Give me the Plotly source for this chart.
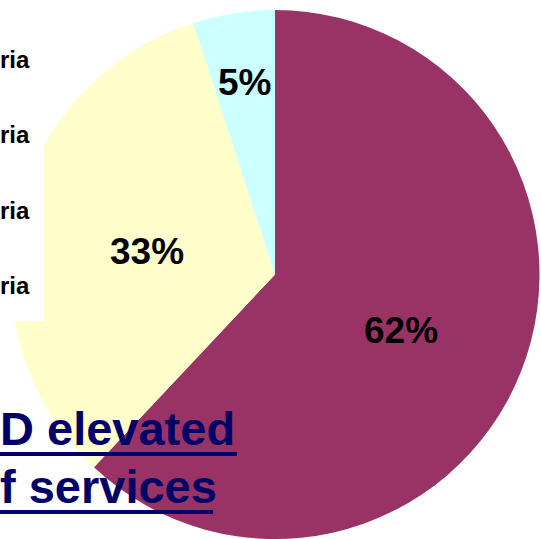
import math
import plotly.graph_objects as go

W, H = 541, 539

# Pie data: share of cases by category
slice_names = ["Category A", "Category B", "Category C"]
slice_values = [62, 33, 5]
slice_colors = ["#993366", "#FFFFCC", "#CCFFFF"]

# Legend-column texts (partly visible at left edge)
legend_texts = ["ria", "ria", "ria", "ria"]

# Caption lines
caption_lines = ["D elevated", "f services"]


def px(x):
    return x / W


def py(y):
    return 1 - y / H


# pie geometry in pixels
cx, top, right = 275, 10, 540
r = right - cx
cy = top + r

fig = go.Figure(
    go.Pie(
        labels=slice_names,
        values=slice_values,
        marker=dict(colors=slice_colors, line=dict(width=0)),
        sort=False,
        direction="clockwise",
        rotation=0,
        textinfo="none",
        hoverinfo="label+percent",
        showlegend=False,
        domain=dict(x=[px(cx - r), px(cx + r)], y=[0, py(top)]),
    )
)
r = min(2 * r, H - top) / 2
cy = top + r

annotations = []

# percentage labels placed along each slice's mid angle
label_radius = [0.52, 0.49, 0.735]
label_turn = [2.4, -2.4, 0.0]  # degrees
total = sum(slice_values)
cum = 0
for v, fr, dt in zip(slice_values, label_radius, label_turn):
    mid = (cum + v / 2) / total * 2 * math.pi + math.radians(dt)
    cum += v
    lx = cx + math.sin(mid) * r * fr
    ly = cy - math.cos(mid) * r * fr
    annotations.append(dict(
        x=px(lx), y=py(ly), xref="paper", yref="paper",
        text="<b>%d%%</b>" % round(v / total * 100),
        showarrow=False, xanchor="center", yanchor="middle",
        font=dict(family="Arial, Liberation Sans", size=37, color="#000000"),
    ))

# legend column text, right edge near x=30
for i, t in enumerate(legend_texts):
    annotations.append(dict(
        x=px(31), y=py(59 + i * 75.5), xref="paper", yref="paper",
        text="<b>%s</b>" % t, showarrow=False, xanchor="right", yanchor="middle",
        borderpad=0,
        font=dict(family="Arial, Liberation Sans", size=24, color="#000000"),
    ))

# caption
for i, t in enumerate(caption_lines):
    annotations.append(dict(
        x=px(-2), y=py(428 + i * 58), xref="paper", yref="paper",
        text="<b>%s</b>" % t, showarrow=False, xanchor="left", yanchor="middle",
        font=dict(family="Arial, Liberation Sans", size=47, color="#000066"),
    ))

shapes = [
    # white legend panel over the left of the pie
    dict(type="rect", xref="paper", yref="paper", x0=px(-5), x1=px(44),
         y0=py(321), y1=py(-5), fillcolor="#FFFFFF", line=dict(width=0), layer="above"),
    # caption underlines
    dict(type="line", xref="paper", yref="paper", x0=px(0), x1=px(237),
         y0=py(454), y1=py(454), line=dict(color="#000066", width=4), layer="above"),
    dict(type="line", xref="paper", yref="paper", x0=px(0), x1=px(213),
         y0=py(512), y1=py(512), line=dict(color="#000066", width=4), layer="above"),
]

fig.update_layout(
    width=W, height=H,
    margin=dict(l=0, r=0, t=0, b=0),
    paper_bgcolor="#FFFFFF", plot_bgcolor="#FFFFFF",
    annotations=annotations, shapes=shapes,
)

fig.write_html("out.html")
